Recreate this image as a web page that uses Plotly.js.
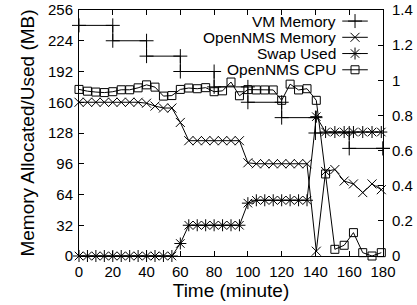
<!DOCTYPE html>
<html>
<head>
<meta charset="utf-8">
<script src="https://cdn.plot.ly/plotly-3.0.1.min.js"></script>
<style>html,body{margin:0;padding:0;background:#fff;}#chart{width:417px;height:305px;}</style>
</head>
<body>
<div id="chart"></div>
<script>
// ---- data ----
const time = [0,5,10,15,20,25,30,35,40,45,50,55,60,65,70,75,80,85,90,95,100,105,110,115,120,125,130,135,140.5,146,151.5,157,162.5,168,173.5,179];
const opennmsMemory = [160,160,160,160,160,160,160,160,159,156,154,154,139,120,120,120,120,120,120,120,97,96,96,96,96,96,96,96,5,88,90,78,75,66,75,69];
const swapUsed = [0,0,0,0,0,0,0,0,0,0,0,0,13,32,32,32,32,32,32,32,55,58,58,58,58,58,58,58,145,129,129,129,129,129,129,129];
const opennmsCpu = [0.948,0.938,0.933,0.930,0.935,0.946,0.946,0.957,0.974,0.961,0.910,0.913,0.948,0.956,0.952,0.958,0.935,0.940,0.990,0.912,0.947,0.945,0.945,0.945,0.886,0.978,0.945,0.952,0.886,0.467,0.038,0.061,0.133,0.019,0.0,0.019];
const vmTime = [0,20,40,60,80,100,120,140,160,180];
const vmMemory = [240,224,208,192,176,160,144,128,112,112];
const seriesNames = ["VM Memory","OpenNMS Memory","Swap Used","OpenNMS CPU"];
const xTicks = [0,20,40,60,80,100,120,140,160,180];
const yTicks = [0,32,64,96,128,160,192,224,256];

// step corners for VM memory (gnuplot "steps" with points at each corner)
const vmX = [], vmY = [];
for (let i = 0; i < vmTime.length; i++) {
  vmX.push(vmTime[i]); vmY.push(vmMemory[i]);
  if (i < vmTime.length - 1) { vmX.push(vmTime[i+1]); vmY.push(vmMemory[i]); }
}

const FONT = "Liberation Sans, Arial, Helvetica, sans-serif";
const symbols = ["cross-thin-open","x-thin-open","asterisk-open","square-open"];
const sizes = [10,9,10,8];
function mk(i){ return {symbol:symbols[i], size:sizes[i], color:"#000", line:{color:"#000", width:1}}; }
const ln = {color:"#000", width:1};

const traces = [
  {x:vmX, y:vmY, mode:"lines+markers", line:ln, marker:mk(0), cliponaxis:false, showlegend:false, name:seriesNames[0]},
  {x:time, y:opennmsMemory, mode:"lines+markers", line:ln, marker:mk(1), cliponaxis:false, showlegend:false, name:seriesNames[1]},
  {x:time, y:swapUsed, mode:"lines+markers", line:ln, marker:mk(2), cliponaxis:false, showlegend:false, name:seriesNames[2]},
  {x:time, y:opennmsCpu, yaxis:"y2", mode:"lines+markers", line:ln, marker:mk(3), cliponaxis:false, showlegend:false, name:seriesNames[3]}
];

// custom gnuplot-like key (text right-aligned, sample on the right)
const keyTextX = 0.852, keyLine0 = 0.866, keyLine1 = 0.950, keyMark = 0.908;
const keyRows = [0.955, 0.889, 0.823, 0.757];
const annotations = [], shapes = [];
seriesNames.forEach((n,i)=>{
  annotations.push({xref:"paper", yref:"paper", x:keyTextX, y:keyRows[i], xanchor:"right", yanchor:"middle", text:n, showarrow:false, font:{family:FONT, size:15.5, color:"#000"}});
  shapes.push({type:"line", xref:"paper", yref:"paper", x0:keyLine0, x1:keyLine1, y0:keyRows[i], y1:keyRows[i], line:{color:"#000", width:1}});
  traces.push({x:[keyMark], y:[keyRows[i]], xaxis:"x3", yaxis:"y3", mode:"markers", marker:mk(i), showlegend:false, hoverinfo:"skip", cliponaxis:false});
});

const axisCommon = {showline:true, linecolor:"#000", linewidth:1, ticks:"inside", ticklen:5, tickcolor:"#000", tickwidth:1, showgrid:false, zeroline:false, tickfont:{family:FONT, size:15, color:"#000"}};

const layout = {
  width:417, height:305,
  margin:{l:79, r:34, t:10, b:49, pad:0},
  paper_bgcolor:"#fff", plot_bgcolor:"#fff",
  font:{family:FONT, color:"#000"},
  showlegend:false,
  xaxis:Object.assign({}, axisCommon, {range:[0,180], tickvals:xTicks, mirror:"ticks", ticklabelstandoff:2, title:{text:"Time (minute)", font:{family:FONT, size:19, color:"#000"}, standoff:4}}),
  yaxis:Object.assign({}, axisCommon, {range:[0,256], tickvals:yTicks, ticklabelstandoff:2, title:{text:"Memory Allocated/Used (MB)", font:{family:FONT, size:19, color:"#000"}, standoff:8}}),
  yaxis2:Object.assign({}, axisCommon, {range:[0,1.4], dtick:0.2, tick0:0, overlaying:"y", side:"right", ticklabelstandoff:5}),
  xaxis3:{overlaying:"x", range:[0,1], visible:false, fixedrange:true},
  yaxis3:{overlaying:"y", range:[0,1], visible:false, fixedrange:true},
  annotations:annotations,
  shapes:shapes
};

Plotly.newPlot("chart", traces, layout, {staticPlot:true, displayModeBar:false});
</script>
</body>
</html>
